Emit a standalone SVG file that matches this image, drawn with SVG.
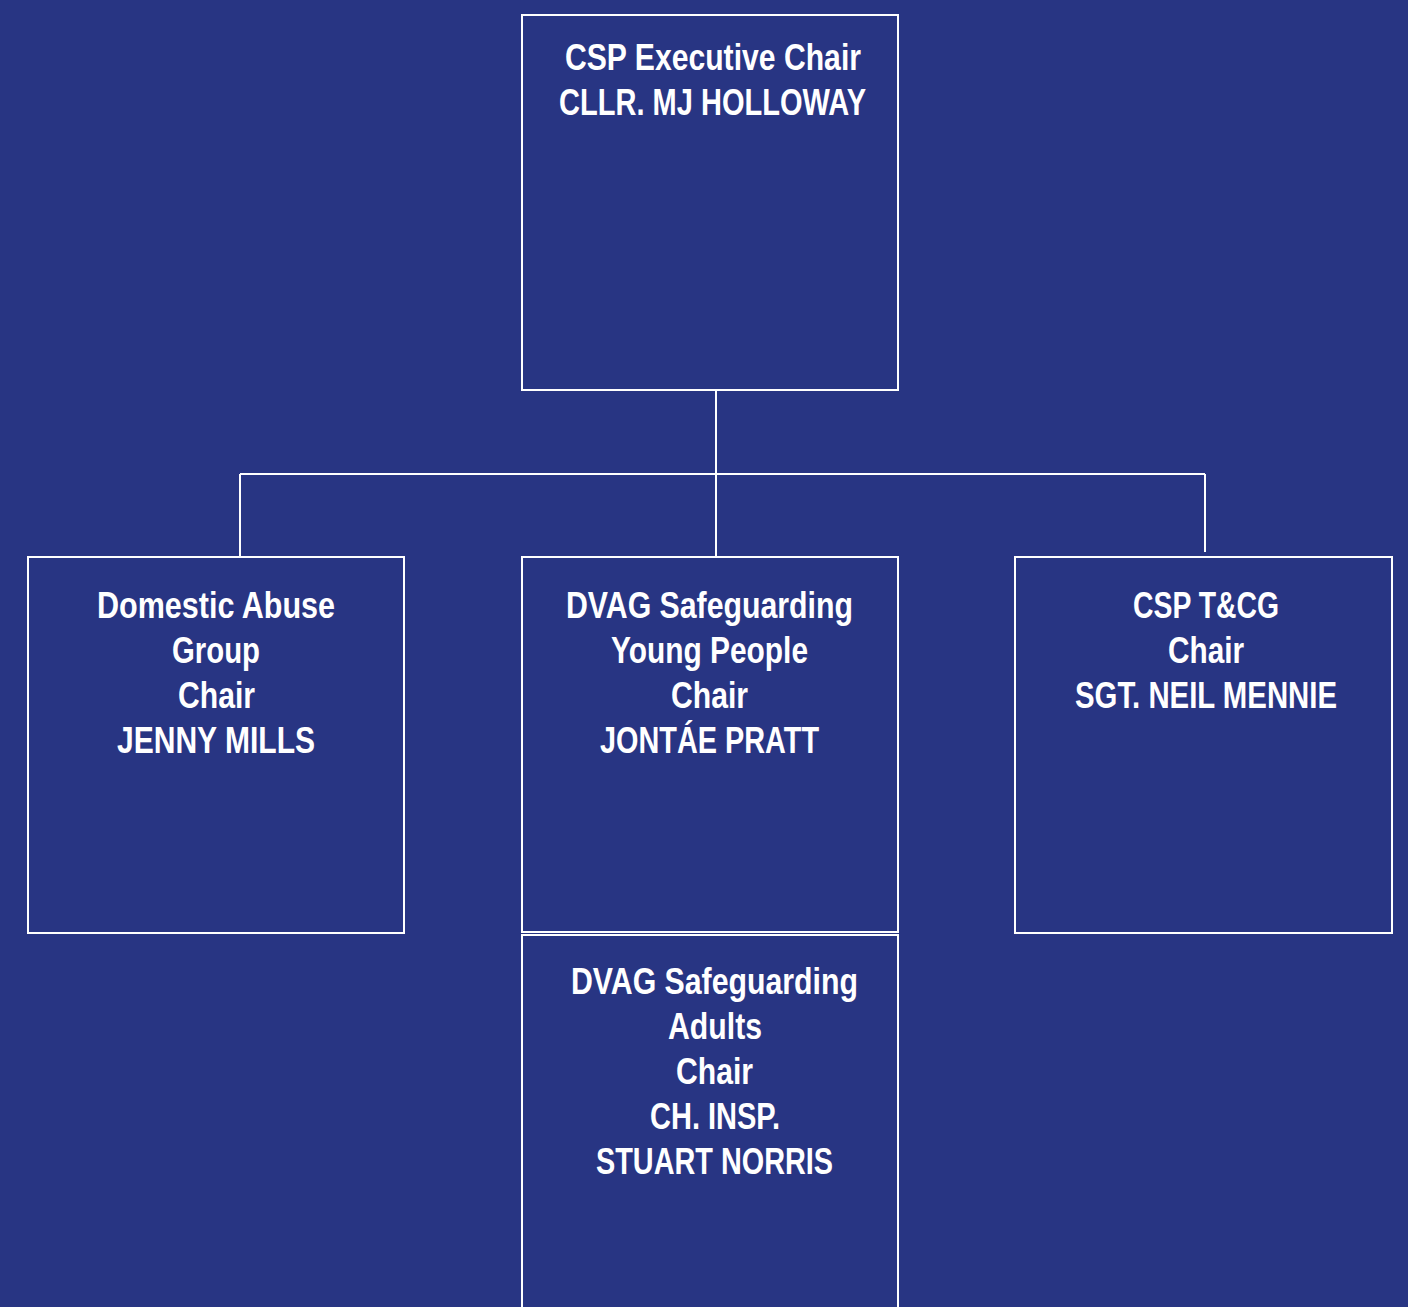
<svg xmlns="http://www.w3.org/2000/svg" width="1408" height="1307" viewBox="0 0 1408 1307">
<style>
.box{fill:none;stroke:#ffffff;stroke-width:2}
.lbl{fill:#ffffff;font-family:"Liberation Sans",Arial,sans-serif;font-weight:bold;font-size:37px;text-anchor:middle}
.conn{fill:none;stroke:#ffffff;stroke-width:2}
</style>
<rect x="0" y="0" width="1408" height="1307" fill="#283583"/>
<g id="connectors">
<path class="conn" d="M716 390 V557 M240 474 H1205 M240 474 V557 M1205 474 V552"/>
</g>
<g id="exec">
<rect class="box" x="522" y="15" width="376" height="375"/>
<text class="lbl" x="713" y="70" textLength="296" lengthAdjust="spacingAndGlyphs">CSP Executive Chair</text>
<text class="lbl" x="712.5" y="115" textLength="307" lengthAdjust="spacingAndGlyphs">CLLR. MJ HOLLOWAY</text>
</g>
<g id="domestic">
<rect class="box" x="28" y="557" width="376" height="376"/>
<text class="lbl" x="216" y="618" textLength="238" lengthAdjust="spacingAndGlyphs">Domestic Abuse</text>
<text class="lbl" x="216" y="663" textLength="88" lengthAdjust="spacingAndGlyphs">Group</text>
<text class="lbl" x="216.5" y="708" textLength="77" lengthAdjust="spacingAndGlyphs">Chair</text>
<text class="lbl" x="216" y="753" textLength="198" lengthAdjust="spacingAndGlyphs">JENNY MILLS</text>
</g>
<g id="dvag-young">
<rect class="box" x="522" y="557" width="376" height="375"/>
<text class="lbl" x="709.5" y="618" textLength="287" lengthAdjust="spacingAndGlyphs">DVAG Safeguarding</text>
<text class="lbl" x="709.5" y="663" textLength="197" lengthAdjust="spacingAndGlyphs">Young People</text>
<text class="lbl" x="709.5" y="708" textLength="77" lengthAdjust="spacingAndGlyphs">Chair</text>
<text class="lbl" x="709.5" y="753" textLength="219" lengthAdjust="spacingAndGlyphs">JONTÁE PRATT</text>
</g>
<g id="csp-tcg">
<rect class="box" x="1015" y="557" width="377" height="376"/>
<text class="lbl" x="1206" y="618" textLength="146" lengthAdjust="spacingAndGlyphs">CSP T&amp;CG</text>
<text class="lbl" x="1206" y="663" textLength="76" lengthAdjust="spacingAndGlyphs">Chair</text>
<text class="lbl" x="1206" y="708" textLength="262" lengthAdjust="spacingAndGlyphs">SGT. NEIL MENNIE</text>
</g>
<g id="dvag-adults">
<rect class="box" x="522" y="935" width="376" height="380"/>
<text class="lbl" x="714.5" y="994" textLength="287" lengthAdjust="spacingAndGlyphs">DVAG Safeguarding</text>
<text class="lbl" x="715" y="1039" textLength="94" lengthAdjust="spacingAndGlyphs">Adults</text>
<text class="lbl" x="714.5" y="1084" textLength="77" lengthAdjust="spacingAndGlyphs">Chair</text>
<text class="lbl" x="715" y="1129" textLength="130" lengthAdjust="spacingAndGlyphs">CH. INSP.</text>
<text class="lbl" x="714.5" y="1174" textLength="237" lengthAdjust="spacingAndGlyphs">STUART NORRIS</text>
</g>
</svg>
